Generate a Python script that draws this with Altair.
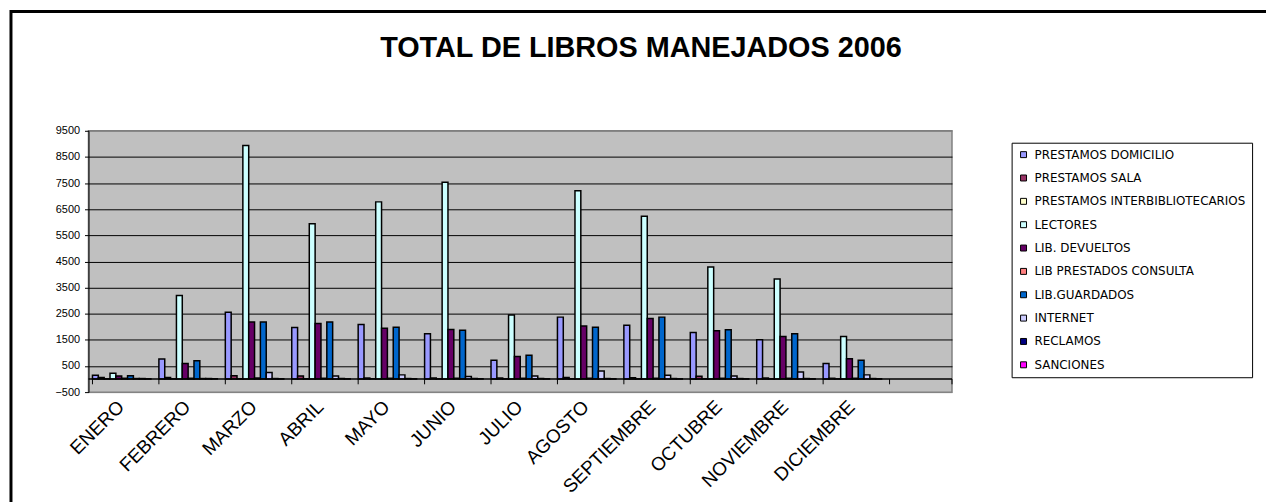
import altair as alt
import pandas as pd

months = ["ENERO", "FEBRERO", "MARZO", "ABRIL", "MAYO", "JUNIO", "JULIO",
          "AGOSTO", "SEPTIEMBRE", "OCTUBRE", "NOVIEMBRE", "DICIEMBRE"]
x_domain = months + [" "]

series = ["PRESTAMOS DOMICILIO", "PRESTAMOS SALA", "PRESTAMOS INTERBIBLIOTECARIOS",
          "LECTORES", "LIB. DEVUELTOS", "LIB PRESTADOS CONSULTA", "LIB.GUARDADOS",
          "INTERNET", "RECLAMOS", "SANCIONES"]
colors = ["#9999FF", "#993366", "#FFFFCC", "#CCFFFF", "#660066", "#FF8080",
          "#0066CC", "#CCCCFF", "#000080", "#FF00FF"]

prestamos_domicilio = [150, 770, 2560, 1975, 2090, 1730, 720, 2370, 2060, 1780, 1500, 600]
prestamos_sala = [60, 60, 130, 120, 40, 40, 40, 60, 50, 110, 40, 30]
prestamos_interbib = [10, 10, 10, 10, 10, 10, 10, 10, 10, 10, 10, 10]
lectores = [220, 3200, 8940, 5940, 6780, 7530, 2450, 7210, 6230, 4290, 3830, 1630]
lib_devueltos = [120, 600, 2180, 2130, 1940, 1900, 860, 2030, 2320, 1850, 1630, 780]
lib_prestados_consulta = [30, 30, 40, 30, 30, 30, 30, 30, 30, 30, 30, 30]
lib_guardados = [130, 700, 2180, 2180, 1980, 1870, 910, 1980, 2370, 1890, 1730, 720]
internet = [20, 20, 250, 120, 160, 100, 120, 310, 150, 120, 270, 160]
reclamos = [20, 20, 20, 20, 20, 20, 20, 20, 20, 20, 20, 20]
sanciones = [10, 10, 10, 10, 10, 10, 10, 10, 10, 10, 10, 10]

values = [prestamos_domicilio, prestamos_sala, prestamos_interbib, lectores,
          lib_devueltos, lib_prestados_consulta, lib_guardados, internet,
          reclamos, sanciones]

y_ticks = list(range(-500, 10000, 1000))
title_text = "TOTAL DE LIBROS MANEJADOS 2006"

rows = []
for s, vals in zip(series, values):
    for m, v in zip(months, vals):
        rows.append({"month": m, "series": s, "value": v})
df = pd.DataFrame(rows)

W, H = 869, 263
FONT = "Liberation Sans"

x_scale = alt.Scale(domain=x_domain, paddingInner=0.12, paddingOuter=0.06)
y_scale = alt.Scale(domain=[-500, 9500], nice=False, zero=False)
x_axis = alt.Axis(labelAngle=-45, labelFont=FONT, labelFontSize=19,
                  labelColor="black", domain=False, ticks=False, grid=False,
                  labelPadding=5, labelOffset=-7, labelAlign="right", labelBaseline="top",
                  labelOverlap=False)
y_axis = alt.Axis(values=y_ticks, format="d", labelOverlap=False, tickCount=11,
                  labelFont=FONT, labelFontSize=11,
                  labelColor="black", domainColor="black", tickColor="black",
                  tickSize=4, labelPadding=5, grid=True,
                  gridColor={"condition": {"test": "datum.value === 9500 || datum.value === -500",
                                           "value": "#808080"},
                             "value": "black"},
                  gridWidth=1)

bars = alt.Chart(df).mark_bar(stroke="black", strokeWidth=1.5).encode(
    x=alt.X("month:N", scale=x_scale, sort=x_domain, title=None, axis=x_axis),
    xOffset=alt.XOffset("series:N", sort=series,
                        scale=alt.Scale(domain=series, paddingInner=0, paddingOuter=0)),
    y=alt.Y("value:Q", scale=y_scale, title=None, axis=y_axis),
    y2=alt.Y2Datum(0),
    color=alt.Color("series:N", scale=alt.Scale(domain=series, range=colors),
                    legend=alt.Legend(title=None, orient="none", legendX=929, legendY=12,
                                      strokeColor="black", fillColor="white", padding=6,
                                      rowPadding=11.5, symbolType="square", symbolSize=36,
                                      symbolStrokeColor="black", symbolStrokeWidth=1,
                                      labelFont="DejaVu Sans", labelFontSize=12,
                                      labelColor="black", labelLimit=400, labelOffset=5)),
)

tick_df = pd.DataFrame({"month": x_domain})
xticks = alt.Chart(tick_df).mark_rule(color="black", strokeWidth=1).encode(
    x=alt.X("month:N", scale=x_scale, sort=x_domain, bandPosition=0, title=None, axis=x_axis),
    y=alt.YDatum(0, scale=y_scale, axis=y_axis, title=None),
    y2=alt.Y2Datum(-200),
)
end_tick = alt.Chart(tick_df.head(1)).mark_rule(color="black", strokeWidth=1).encode(
    x=alt.value(W), y=alt.YDatum(0, scale=y_scale, axis=y_axis, title=None),
    y2=alt.Y2Datum(-200)
)
zero_line = alt.Chart(tick_df.head(1)).mark_rule(color="black", strokeWidth=1.5).encode(
    x=alt.value(0), x2=alt.value(W), y=alt.YDatum(0, scale=y_scale, axis=y_axis, title=None)
)

tdf = pd.DataFrame({"t": [title_text]})
title = alt.Chart(tdf).mark_text(font=FONT, fontSize=29, fontWeight="bold",
                                 color="black", align="center", baseline="middle").encode(
    text="t:N", x=alt.value(645 - 89), y=alt.value(47 - 130)
)
frame = alt.Chart(tdf).mark_rect(fillOpacity=0, stroke="black", strokeWidth=3).encode(
    x=alt.value(-78), x2=alt.value(1250), y=alt.value(-120), y2=alt.value(520)
)

chart = alt.layer(bars, zero_line, xticks, end_tick, title, frame).properties(
    width=W, height=H,
    autosize=alt.AutoSizeParams(type="none"),
    padding={"left": 81, "top": 122, "right": 316, "bottom": 109},
    background="white",
).configure_view(
    fill="#C0C0C0", stroke="#808080", strokeWidth=1.5
)

chart.save("out.html", embed_options={"renderer": "svg", "actions": False})
